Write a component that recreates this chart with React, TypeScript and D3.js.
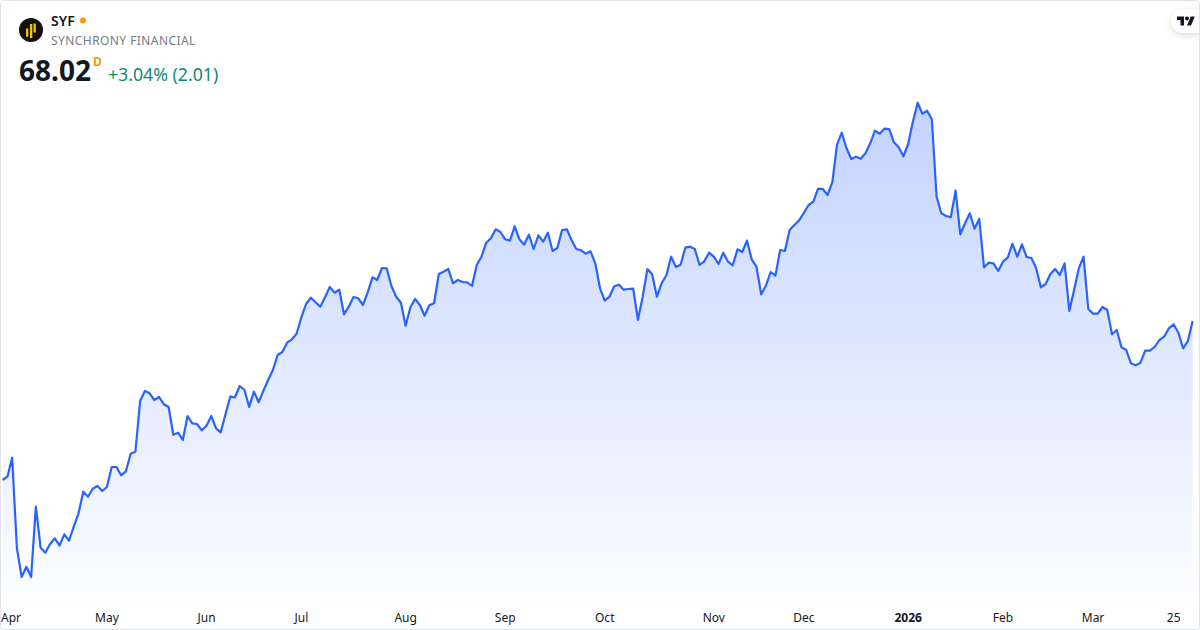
import React from "react";
import * as d3 from "d3";

const closes = [
  52.12, 52.45, 54.35, 45.32, 42.42, 43.45, 42.42, 49.45, 45.35, 44.85,
  45.72, 46.29, 45.55, 46.69, 46.05, 47.45, 48.79, 50.95, 50.45, 51.25,
  51.52, 51.02, 51.42, 53.42, 53.42, 52.59, 52.99, 54.75, 54.95, 60.02,
  61.02, 60.79, 60.12, 60.42, 59.69, 59.42, 56.65, 56.85, 56.12, 58.52,
  57.79, 57.72, 57.09, 57.55, 58.52, 57.29, 56.89, 58.69, 60.45, 60.39,
  61.52, 61.12, 59.42, 60.95, 59.89, 61.05, 62.12, 63.12, 64.62, 64.92,
  65.85, 66.19, 66.75, 68.39, 69.72, 70.35, 69.89, 69.45, 70.39, 71.42,
  70.85, 71.15, 68.69, 69.45, 70.42, 70.29, 69.62, 70.89, 72.39, 72.12,
  73.32, 73.29, 71.52, 70.45, 69.85, 67.55, 69.39, 70.22, 69.62, 68.55,
  69.59, 69.79, 72.72, 72.95, 73.22, 71.79, 72.12, 71.92, 71.89, 71.52,
  73.62, 74.45, 75.85, 76.29, 77.19, 76.92, 76.19, 76.05, 77.49, 76.19,
  75.65, 76.65, 75.22, 76.59, 75.95, 76.85, 75.02, 75.32, 77.12, 77.19,
  76.12, 75.22, 75.09, 74.75, 74.99, 73.79, 71.29, 70.05, 70.45, 71.49,
  71.65, 71.15, 71.22, 71.25, 68.12, 70.45, 73.22, 72.69, 70.45, 71.79,
  72.59, 74.45, 73.42, 73.65, 75.35, 75.45, 75.22, 73.62, 73.99, 74.85,
  74.45, 73.72, 74.85, 73.95, 73.59, 75.19, 74.92, 76.05, 74.19, 73.45,
  70.69, 71.55, 72.92, 72.55, 75.12, 75.02, 77.12, 77.62, 78.08, 78.82,
  79.62, 79.95, 81.25, 81.22, 80.62, 81.89, 85.69, 86.85, 85.29, 84.22,
  84.45, 84.25, 84.79, 85.79, 87.05, 86.75, 87.25, 87.22, 85.89, 85.39,
  84.49, 85.72, 87.95, 89.85, 88.75, 89.05, 88.19, 80.45, 78.79, 78.52,
  78.39, 81.05, 76.69, 77.79, 78.79, 77.25, 78.22, 73.39, 73.85, 73.79,
  73.02, 73.95, 74.35, 75.75, 74.45, 75.69, 74.42, 74.32, 73.29, 71.39,
  71.72, 72.72, 73.22, 72.62, 73.79, 69.02, 71.12, 73.29, 74.45, 69.22,
  68.75, 68.75, 69.42, 69.12, 66.69, 67.12, 65.39, 65.12, 63.79, 63.59,
  63.85, 65.05, 65.05, 65.42, 66.12, 66.45, 67.29, 67.69, 66.85, 65.29,
  66.01, 68.02,
];

const tickLabels = ["Apr", "May", "Jun", "Jul", "Aug", "Sep", "Oct", "Nov", "Dec", "2026", "Feb", "Mar", "25"];
const tickIndexes = [0, 22, 43, 63, 85, 106, 127, 150, 169, 191, 211, 230, 247];

const FONT = "'Noto Sans', 'Open Sans', sans-serif";
const W = 1200;
const H = 630;
const BASE = 604;

export default function App() {
  const x = d3.scaleLinear().domain([0, closes.length - 1]).range([2.67, 1192.6]);
  const y = d3.scaleLinear().domain([100.12, 37.12]).range([0, H]);

  const line = d3.line<number>().x((_, i) => x(i)).y((d) => y(d));
  const area = d3.area<number>().x((_, i) => x(i)).y0(BASE).y1((d) => y(d));

  return (
    <svg
      width={W}
      height={H}
      viewBox={`0 0 ${W} ${H}`}
      style={{ position: "absolute", left: 0, top: 0, display: "block", background: "#fff" }}
    >
      <defs>
        <linearGradient id="fill" gradientUnits="userSpaceOnUse" x1="0" y1={y(d3.max(closes)!)} x2="0" y2={BASE}>
          <stop offset="0" stopColor="#2962ff" stopOpacity={0.28} />
          <stop offset="1" stopColor="#2962ff" stopOpacity={0.01} />
        </linearGradient>
        <filter id="badge" x="-50%" y="-50%" width="200%" height="200%">
          <feDropShadow dx="0" dy="2" stdDeviation="3" floodColor="#000" floodOpacity={0.14} />
        </filter>
        <clipPath id="frame">
          <rect x={1} y={1} width={W - 2} height={H - 2} rx={3} />
        </clipPath>
      </defs>

      {/* price area and line */}
      <path d={area(closes)!} fill="url(#fill)" />
      <path d={line(closes)!} fill="none" stroke="#2962ff" strokeWidth={2.2} strokeLinejoin="round" />

      {/* time axis */}
      {tickLabels.map((t, i) => (
        <text
          key={t}
          x={i === 0 ? 1 : x(tickIndexes[i])}
          y={622}
          textAnchor={i === 0 ? "start" : "middle"}
          fontFamily={FONT}
          fontSize={12}
          fontWeight={t === "2026" ? 700 : 400}
          fill="#131722"
        >
          {t}
        </text>
      ))}

      {/* symbol header */}
      <circle cx={31} cy={30} r={12} fill="#111" />
      <g fill="#f7c600">
        <rect x={26} y={28.5} width={2.3} height={8.2} />
        <rect x={30} y={24} width={2.3} height={14} />
        <rect x={33.5} y={23.5} width={2.3} height={9} />
      </g>
      <text x={51} y={25.5} fontFamily={FONT} fontSize={14} fontWeight={600} fill="#131722">SYF</text>
      <circle cx={83} cy={20.5} r={3} fill="#ff9800" />
      <text x={51} y={45} fontFamily={FONT} fontSize={12} letterSpacing={0.43} fill="#787b86">SYNCHRONY FINANCIAL</text>
      <text x={19} y={81} fontFamily={FONT} fontSize={28} fontWeight={700} fill="#131722">68.02</text>
      <text x={93} y={66} fontFamily={FONT} fontSize={12} fontWeight={700} fill="#ff9800">D</text>
      <text x={108} y={81} fontFamily={FONT} fontSize={17.7} fill="#0d8a76">+3.04% (2.01)</text>

      {/* logo badge */}
      <g clipPath="url(#frame)">
        <rect x={1171} y={9} width={50} height={24} rx={12} fill="#fff" filter="url(#badge)" />
      </g>
      <g transform="translate(1177,14.5) scale(0.5)" fill="#131722">
        <path d="M14 22H7V11H0V4h14v18zM28 22h-8l7.5-18h8L28 22z" />
        <circle cx={20} cy={8} r={4} />
      </g>

      {/* outer frame */}
      <rect x={0.5} y={0.5} width={W - 1} height={H - 1} rx={3} fill="none" stroke="#e0e3eb" />
    </svg>
  );
}
